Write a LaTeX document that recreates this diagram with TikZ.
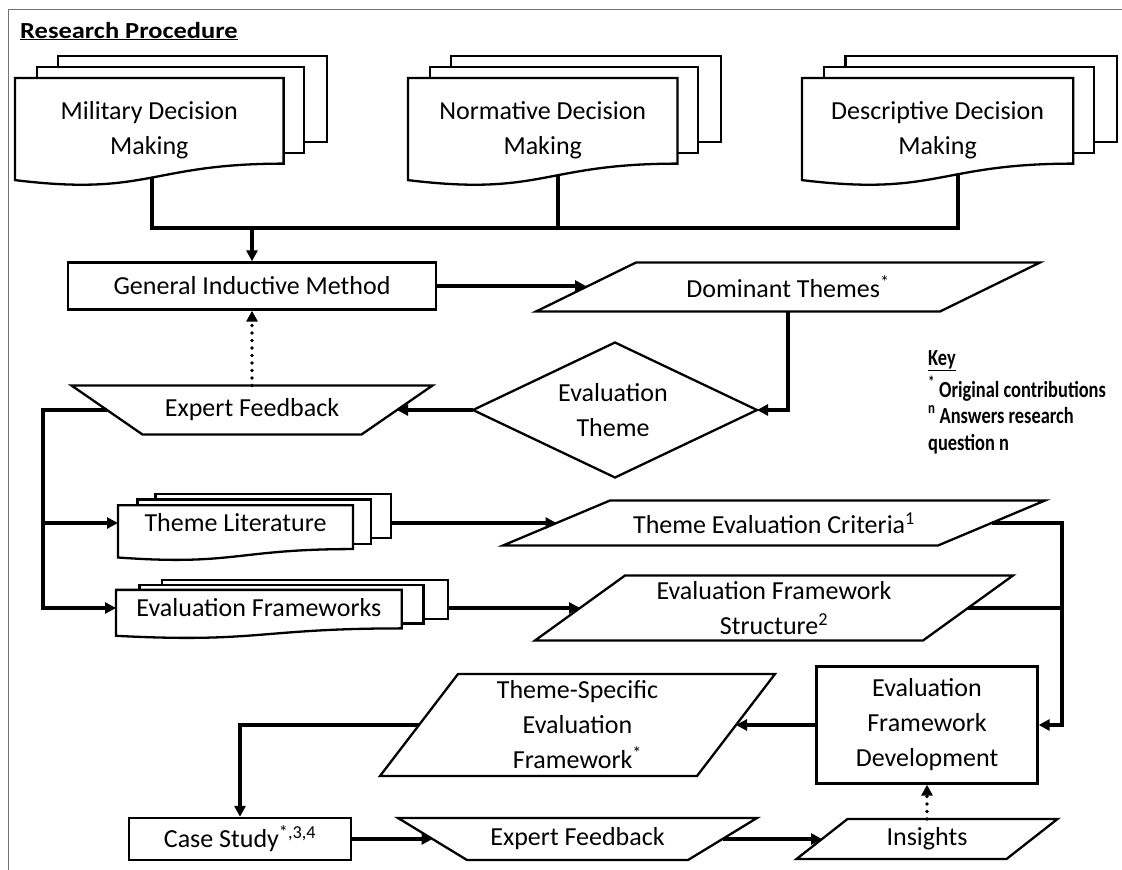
\documentclass[tikz,border=0pt]{standalone}
\usepackage{fontspec}
\usepackage{graphicx}
\setmainfont{Carlito}
\usetikzlibrary{arrows.meta,calc}
\pgfdeclarelayer{bg}
\pgfsetlayers{bg,main}

\tikzset{
  shp/.style={draw=black, line width=2.3pt, fill=white},
  txt/.style={inner sep=0pt, align=center, font=\fontsize{26}{35}\selectfont},
  box/.style={shp, inner sep=0pt, align=center, font=\fontsize{26}{35}\selectfont},
  conn/.style={line width=3.6pt},
  arr/.style={line width=3.6pt, -{Triangle[length=11pt,width=11pt]}},
  dotarr/.style={line width=3.6pt, line cap=round, dash pattern=on 0pt off 7.5pt, -{Triangle[length=11pt,width=11pt]}},
  keyt/.style={inner sep=0pt, anchor=base west, font=\fontsize{23}{26}\selectfont\bfseries},
}

% multi-document stack: name, x0, y0, W, H, text-y, text
\newcommand\mdoc[7]{%
  \draw[shp] ({#2+0.1376*#4},{#3}) rectangle ({#2+#4},{#3+0.6663*#5});
  \draw[shp] ({#2+0.0709*#4},{#3+0.0840*#5}) rectangle ({#2+0.9259*#4},{#3+0.7524*#5});
  \draw[shp] ({#2},{#3+0.1701*#5}) -- ({#2+0.8609*#4},{#3+0.1701*#5}) -- ({#2+0.8609*#4},{#3+0.8343*#5})
     .. controls ({#2+0.4305*#4},{#3+0.8343*#5}) and ({#2+0.4305*#4},{#3+1.0899*#5}) .. ({#2},{#3+0.9621*#5}) -- cycle;
  \node[txt] (#1) at ({#2+0.4305*#4},{#6}) {#7};
  \coordinate (#1-W) at ({#2},{#6});
  \coordinate (#1-E) at ({#2+#4},{#6});
}
% parallelogram: name, cx, cy, w, h, slant, text
\newcommand\para[7]{%
  \draw[shp] ({#2-#4/2+#6/2},{#3-#5/2}) -- ({#2+#4/2+#6/2},{#3-#5/2}) -- ({#2+#4/2-#6/2},{#3+#5/2}) -- ({#2-#4/2-#6/2},{#3+#5/2}) -- cycle;
  \node[txt] (#1) at (#2,#3) {#7};
  \coordinate (#1-W) at ({#2-#4/2},{#3});
  \coordinate (#1-E) at ({#2+#4/2},{#3});
  \coordinate (#1-N) at ({#2},{#3-#5/2});
  \coordinate (#1-S) at ({#2},{#3+#5/2});
}
% manual operation trapezoid: name, cx, cy, wtop, wbottom, h, text
\newcommand\manop[7]{%
  \draw[shp] ({#2-#4/2},{#3-#6/2}) -- ({#2+#4/2},{#3-#6/2}) -- ({#2+#5/2},{#3+#6/2}) -- ({#2-#5/2},{#3+#6/2}) -- cycle;
  \node[txt] (#1) at (#2,#3) {#7};
  \coordinate (#1-W) at ({#2-(#4+#5)/4},{#3});
  \coordinate (#1-E) at ({#2+(#4+#5)/4},{#3});
  \coordinate (#1-N) at ({#2},{#3-#6/2});
}

\begin{document}
\begin{tikzpicture}[x=1pt,y=-1pt]
\useasboundingbox (0,0) rectangle (1122,870);
\draw[black!55, line width=1pt] (8,870) -- (8,9) -- (1122,9);

\node[inner sep=0pt, anchor=base west, font=\fontsize{23}{26}\selectfont\bfseries] (title) at (20,38) {\underline{\scalebox{1.15}[1]{Research Procedure}}};

% top documents
\mdoc{mil}{15}{56}{312}{129}{130}{Military Decision\\Making}
\mdoc{nor}{408}{56}{313}{129}{130}{Normative Decision\\Making}
\mdoc{des}{802}{56}{315}{129}{130}{Descriptive Decision\\Making}

\begin{pgfonlayer}{bg}
  \coordinate (mb) at (152,170);
  \coordinate (nb) at (558,170);
  \coordinate (db) at (958,170);
  \coordinate (bus) at (0,228);
  \draw[conn] (mb) -- (mb |- bus) -- (db |- bus) -- (db);
  \draw[conn] (nb) -- (nb |- bus);
\end{pgfonlayer}

\node[box, minimum width=368pt, minimum height=47pt] (gim) at (252,286) {General Inductive Method};
\para{dt}{788}{287}{404}{49}{100}{Dominant Themes\textsuperscript{*}}

% diamond
\draw[shp] (473,410) -- (615,342.5) -- (757,410) -- (615,477.5) -- cycle;
\node[txt] (diam) at (613,410) {Evaluation\\Theme};
\coordinate (diam-W) at (473,410);
\coordinate (diam-E) at (757,410);

\manop{ef}{252}{410}{361}{219}{49}{Expert Feedback}

% key
\node[keyt] (k1) at (928,365) {\underline{\scalebox{0.8}[1]{Key}}};
\node[keyt] (k2) at (928,397) {\scalebox{0.8}[1]{\textsuperscript{*} Original contributions}};
\node[keyt] (k3) at (928,423) {\scalebox{0.8}[1]{\textsuperscript{n} Answers research}};
\node[keyt] (k4) at (928,450) {\scalebox{0.8}[1]{question n}};

% literature stacks
\mdoc{tl}{118}{494}{273}{66}{523}{Theme Literature}
\mdoc{efw}{116}{580}{332}{58}{608}{Evaluation Frameworks}

\para{tec}{774}{523}{435}{45}{107}{Theme Evaluation Criteria\textsuperscript{1}}
\para{efs}{774}{608}{388}{65}{90}{\fontsize{26}{30}\selectfont Evaluation Framework\\Structure\textsuperscript{2}}

\node[box, minimum width=221pt, minimum height=117pt] (efd) at (927,725) {Evaluation\\Framework\\Development};
\para{tsef}{577.5}{725}{317}{102}{78}{Theme-Specific\\Evaluation\\Framework\textsuperscript{*}}

\node[box, minimum width=222pt, minimum height=42pt] (cs) at (240,839) {Case Study\textsuperscript{*,3,4}};
\manop{ef2}{577.5}{839}{359}{221}{42}{Expert Feedback}
\para{ins}{927}{839}{210}{40}{51}{Insights}

% connectors
\draw[arr] (gim.north |- bus) -- (gim.north);
\draw[arr] (gim.east) -- (gim.east -| dt-W);
\draw[arr] (dt-S) |- (diam-E);
\draw[arr] (diam-W) -- (ef-E);
\draw[dotarr] (ef-N) -- (gim.south);
\coordinate (spine) at (43,0);
\draw[arr] (ef-W) -- (ef-W -| spine) -- (spine |- efw-W) -- (efw-W);
\draw[arr] (spine |- tl-W) -- (tl-W);
\draw[arr] (tl-E) -- (tec-W);
\draw[arr] (efw-E) -- (efs-W);
\coordinate (rail) at (1062,0);
\draw[arr] (tec-E) -- (tec-E -| rail) -- (rail |- efd.east) -- (efd.east);
\draw[conn] (efs-E) -- (efs-E -| rail);
\draw[arr] (efd.west) -- (tsef-E);
\draw[arr] (tsef-W) -| (cs.north);
\draw[arr] (cs.east) -- (ef2-W);
\draw[arr] (ef2-E) -- (ins-W);
\draw[dotarr] (ins-N) -- (efd.south);
\end{tikzpicture}
\end{document}
